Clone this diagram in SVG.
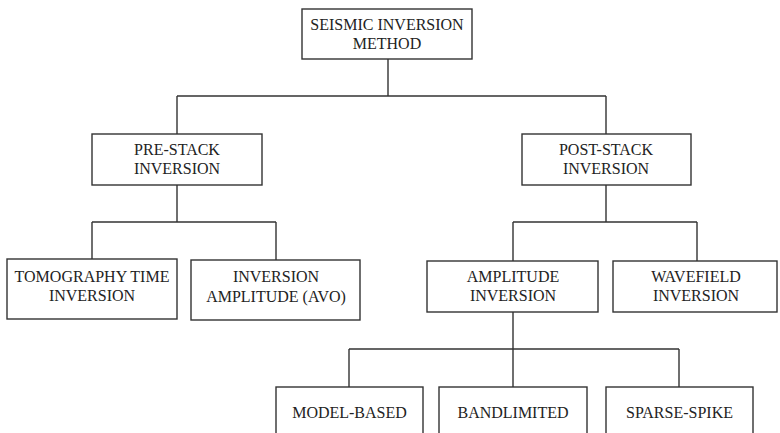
<svg xmlns="http://www.w3.org/2000/svg" width="780" height="433" viewBox="0 0 780 433">
<style>
.box{fill:#fff;stroke:#333;stroke-width:1.4}
.ln{fill:none;stroke:#333;stroke-width:1.4}
text{font-family:"Liberation Serif","Times New Roman",serif;font-size:16px;fill:#222;text-anchor:middle}
</style>
<rect width="780" height="433" fill="#fff"/>
<g id="connectors">
<path class="ln" d="M388 59V96M177 96H606M177 96V134M606 96V134"/>
<path class="ln" d="M177 185V222M92 222H276M92 222V259M276 222V260"/>
<path class="ln" d="M606 185V222M513 222H697M513 222V261M697 222V261"/>
<path class="ln" d="M513 312V349M349 349H679M349 349V387M513 349V387M679 349V387"/>
</g>
<g id="seismic"><rect class="box" x="302" y="9" width="170" height="50"/><text x="387" y="30">SEISMIC INVERSION</text><text x="387" y="49">METHOD</text></g>
<g id="prestack"><rect class="box" x="92" y="134" width="170" height="51"/><text x="177" y="155">PRE-STACK</text><text x="177" y="174">INVERSION</text></g>
<g id="poststack"><rect class="box" x="522" y="134" width="169" height="51"/><text x="606" y="155">POST-STACK</text><text x="606" y="174">INVERSION</text></g>
<g id="tomography"><rect class="box" x="7" y="259" width="170" height="60"/><text x="92" y="282">TOMOGRAPHY TIME</text><text x="92" y="301">INVERSION</text></g>
<g id="avo"><rect class="box" x="191" y="260" width="169" height="60"/><text x="276" y="282">INVERSION</text><text x="276" y="302">AMPLITUDE (AVO)</text></g>
<g id="amplitude"><rect class="box" x="427" y="261" width="171" height="51"/><text x="513" y="282">AMPLITUDE</text><text x="513" y="301">INVERSION</text></g>
<g id="wavefield"><rect class="box" x="613" y="261" width="164" height="51"/><text x="696" y="282">WAVEFIELD</text><text x="696" y="301">INVERSION</text></g>
<g id="modelbased"><rect class="box" x="276" y="387" width="147" height="60"/><text x="349.5" y="418">MODEL-BASED</text></g>
<g id="bandlimited"><rect class="box" x="439" y="387" width="148" height="60"/><text x="513" y="418">BANDLIMITED</text></g>
<g id="sparsespike"><rect class="box" x="606" y="387" width="147" height="60"/><text x="679.5" y="418">SPARSE-SPIKE</text></g>
</svg>
